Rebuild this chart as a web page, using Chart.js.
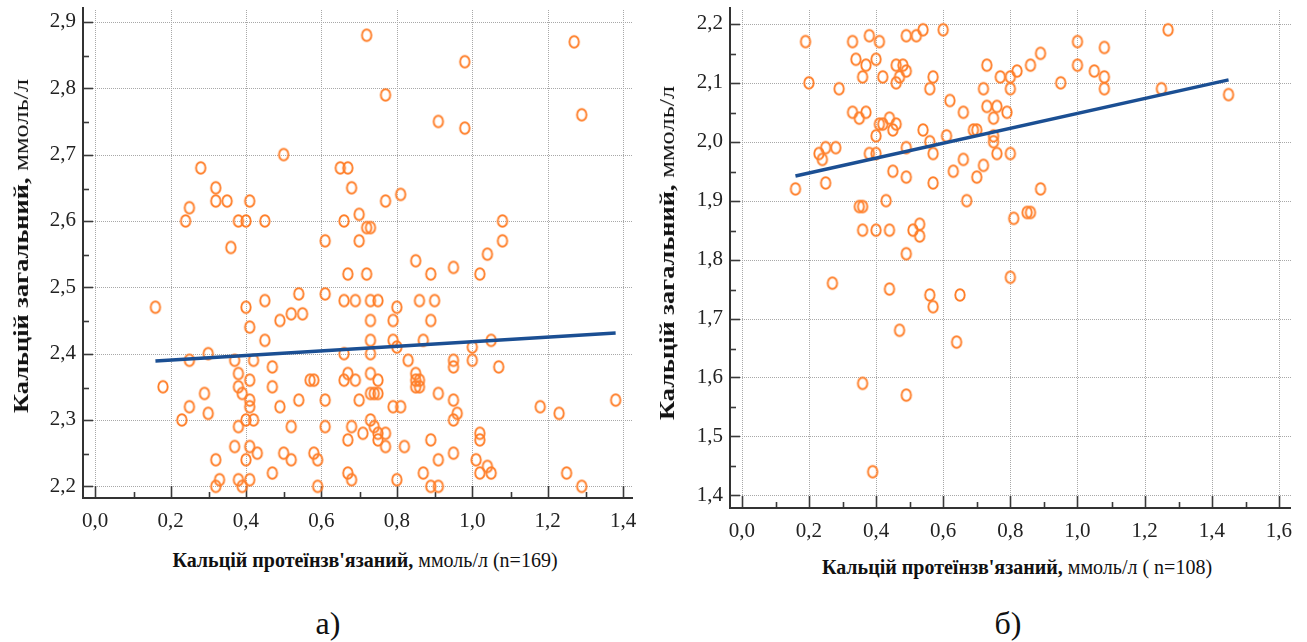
<!DOCTYPE html>
<html>
<head>
<meta charset="utf-8">
<script src="https://cdn.jsdelivr.net/npm/chart.js@4.4.1/dist/chart.umd.min.js"></script>
<style>
  html, body { margin:0; padding:0; background:#fff; }
  body { width:1307px; height:642px; position:relative; overflow:hidden; font-family:"Liberation Serif","Times New Roman",serif; color:#111; }
  canvas { position:absolute; }
  .t { position:absolute; white-space:nowrap; font-family:"Liberation Serif","Times New Roman",serif; color:#111; }
  .b { font-weight:bold; }
  .ytitle { transform:translate(-50%,-50%) rotate(-90deg) scaleX(1.2); font-size:22px; }
  .xtitle { transform:translate(-50%,-50%); font-size:20px; }
  .lab { transform:translate(-50%,-50%); font-size:32px; }
</style>
</head>
<body>
<canvas id="cA" width="650" height="545" style="left:0;top:0"></canvas>
<canvas id="cB" width="657" height="545" style="left:650px;top:0"></canvas>

<div class="t ytitle" style="left:21px;top:246px"><span class="b">Кальцій загальний,</span> ммоль/л</div>
<div class="t xtitle" style="left:365px;top:560px"><span class="b">Кальцій протеїнзв'язаний,</span> ммоль/л (n=169)</div>
<div class="t lab" style="left:328px;top:623px">а)</div>

<div class="t ytitle" style="left:667px;top:253px"><span class="b">Кальцій загальний,</span> ммоль/л</div>
<div class="t xtitle" style="left:1017px;top:567px"><span class="b">Кальцій протеїнзв'язаний,</span> ммоль/л ( n=108)</div>
<div class="t lab" style="left:1008px;top:623px">б)</div>

<script>
// ---------- Panel а) (n=169) ----------
const proteinBoundA = [
  0.50,0.28,0.32,0.25,0.32,0.35,0.41,0.24,0.38,0.40,0.45,0.36,0.61,
  0.72,1.27,0.98,0.77,1.29,0.91,0.98,0.65,0.67,0.68,0.77,0.81,0.70,0.66,0.72,0.73,0.70,1.08,1.08,0.85,1.04,
  0.16,0.40,0.45,0.54,0.61,0.49,0.52,0.55,0.41,0.45,0.30,0.25,0.37,0.42,0.47,0.38,0.18,0.38,0.41,0.47,0.57,0.58,
  0.29,0.39,0.41,0.54,0.61,0.25,0.41,0.49,0.30,0.23,0.40,0.42,0.38,0.52,0.61,0.37,0.41,0.43,0.50,0.58,
  0.32,0.40,0.52,0.59,0.47,0.33,0.38,0.41,0.32,0.39,0.59,
  0.67,0.72,0.89,0.95,1.02,0.66,0.69,0.73,0.75,0.80,0.86,0.90,0.73,0.79,0.89,0.73,0.79,0.80,0.87,1.05,1.00,
  0.66,0.73,0.83,0.95,1.00,0.95,1.07,0.67,0.73,0.85,0.66,0.69,0.75,0.85,0.86,0.85,0.86,0.70,0.73,0.74,0.75,
  0.91,0.95,0.79,0.81,1.18,1.38,0.96,1.23,0.95,0.73,0.68,0.74,0.71,0.75,0.77,1.02,0.67,0.75,0.89,1.02,
  0.77,0.82,0.95,0.91,1.01,1.04,0.67,0.87,1.02,1.05,1.25,0.68,0.80,0.89,0.91,1.29
];
const totalCaA = [
  2.70,2.68,2.65,2.62,2.63,2.63,2.63,2.60,2.60,2.60,2.60,2.56,2.57,
  2.88,2.87,2.84,2.79,2.76,2.75,2.74,2.68,2.68,2.65,2.63,2.64,2.61,2.60,2.59,2.59,2.57,2.60,2.57,2.54,2.55,
  2.47,2.47,2.48,2.49,2.49,2.45,2.46,2.46,2.44,2.42,2.40,2.39,2.39,2.39,2.38,2.37,2.35,2.35,2.36,2.35,2.36,2.36,
  2.34,2.34,2.33,2.33,2.33,2.32,2.32,2.32,2.31,2.30,2.30,2.30,2.29,2.29,2.29,2.26,2.26,2.25,2.25,2.25,
  2.24,2.24,2.24,2.24,2.22,2.21,2.21,2.21,2.20,2.20,2.20,
  2.52,2.52,2.52,2.53,2.52,2.48,2.48,2.48,2.48,2.47,2.48,2.48,2.45,2.45,2.45,2.42,2.42,2.41,2.42,2.42,2.41,
  2.40,2.40,2.39,2.39,2.39,2.38,2.38,2.37,2.37,2.37,2.36,2.36,2.36,2.36,2.36,2.35,2.35,2.33,2.34,2.34,2.34,
  2.34,2.33,2.32,2.32,2.32,2.33,2.31,2.31,2.30,2.30,2.29,2.29,2.28,2.28,2.28,2.28,2.27,2.27,2.27,2.27,
  2.26,2.26,2.25,2.24,2.24,2.23,2.22,2.22,2.22,2.22,2.22,2.21,2.21,2.20,2.20,2.20
];
const fitXA = [0.16, 1.38];
const fitYA = [2.389, 2.431];
const xTickValsA = [0.0,0.2,0.4,0.6,0.8,1.0,1.2,1.4];
const xTickLabelsA = ['0,0','0,2','0,4','0,6','0,8','1,0','1,2','1,4'];
const yTickValsA = [2.2,2.3,2.4,2.5,2.6,2.7,2.8,2.9];
const yTickLabelsA = ['2,2','2,3','2,4','2,5','2,6','2,7','2,8','2,9'];

// ---------- Panel б) (n=108) ----------
const proteinBoundB = [
  0.19,0.20,0.16,0.23,0.24,0.25,0.28,0.25,0.29,0.33,0.38,0.41,0.49,0.52,0.54,0.60,
  0.34,0.37,0.40,0.36,0.42,0.46,0.48,0.49,0.47,0.46,0.57,0.56,0.62,0.66,0.33,0.35,0.37,0.44,
  0.41,0.42,0.46,0.45,0.54,0.40,0.61,0.56,0.69,0.70,0.49,0.38,0.40,0.57,0.66,0.72,0.45,0.63,
  0.49,0.70,0.57,0.43,0.67,0.35,0.36,0.36,0.40,0.44,0.51,0.53,0.53,0.49,
  0.73,0.72,0.73,0.76,0.75,0.75,0.75,0.76,0.80,0.79,0.77,0.80,0.82,0.80,0.86,0.89,0.95,
  1.00,1.00,1.05,1.08,1.08,1.08,1.27,1.25,1.45,0.89,0.85,0.86,0.81,
  0.27,0.44,0.56,0.65,0.57,0.47,0.64,0.36,0.49,0.39,0.80
];
const totalCaB = [
  2.17,2.10,1.92,1.98,1.97,1.99,1.99,1.93,2.09,2.17,2.18,2.17,2.18,2.18,2.19,2.19,
  2.14,2.13,2.14,2.11,2.11,2.13,2.13,2.12,2.11,2.10,2.11,2.09,2.07,2.05,2.05,2.04,2.05,2.04,
  2.03,2.03,2.03,2.02,2.02,2.01,2.01,2.00,2.02,2.02,1.99,1.98,1.98,1.98,1.97,1.96,1.95,1.95,
  1.94,1.94,1.93,1.90,1.90,1.89,1.89,1.85,1.85,1.85,1.85,1.86,1.84,1.81,
  2.13,2.09,2.06,2.06,2.04,2.01,2.00,1.98,1.98,2.05,2.11,2.11,2.12,2.09,2.13,2.15,2.10,
  2.17,2.13,2.12,2.16,2.11,2.09,2.19,2.09,2.08,1.92,1.88,1.88,1.87,
  1.76,1.75,1.74,1.74,1.72,1.68,1.66,1.59,1.57,1.44,1.77
];
const fitXB = [0.16, 1.45];
const fitYB = [1.942, 2.105];
const xTickValsB = [0.0,0.2,0.4,0.6,0.8,1.0,1.2,1.4,1.6];
const xTickLabelsB = ['0,0','0,2','0,4','0,6','0,8','1,0','1,2','1,4','1,6'];
const yTickValsB = [1.4,1.5,1.6,1.7,1.8,1.9,2.0,2.1,2.2];
const yTickLabelsB = ['1,4','1,5','1,6','1,7','1,8','1,9','2,0','2,1','2,2'];

// ---------- styling ----------
const ORANGE = '#ff7f2a';
const BLUE = '#1b4f93';
function makeMarker() {
  const c = document.createElement('canvas');
  c.width = 14; c.height = 16;
  const g = c.getContext('2d');
  g.strokeStyle = ORANGE; g.lineWidth = 1.9;
  g.beginPath(); g.ellipse(7, 8, 4.7, 5.8, 0, 0, Math.PI * 2); g.stroke();
  return c;
}
const marker = makeMarker();

const axesDeco = {
  id: 'axesDeco',
  beforeDatasetsDraw(chart) {
    const {ctx, chartArea: a, scales: {x, y}} = chart;
    const ln = (x1, y1, x2, y2) => { ctx.beginPath(); ctx.moveTo(x1, y1); ctx.lineTo(x2, y2); ctx.stroke(); };
    const xs = x.ticks.map(t => Math.round(x.getPixelForValue(t.value)) + 0.5);
    const ys = y.ticks.map(t => Math.round(y.getPixelForValue(t.value)) + 0.5);
    ctx.save();
    ctx.strokeStyle = '#a8a8a8'; ctx.lineWidth = 1; ctx.setLineDash([1, 1]);
    xs.forEach(px => ln(px, a.top + 2, px, a.bottom));
    ys.forEach(py => ln(a.left, py, a.right, py));
    ctx.setLineDash([]);
    ctx.strokeStyle = '#3a3a3a'; ctx.lineWidth = 1.6;
    xs.forEach(px => ln(px, a.bottom, px, a.bottom - 12));
    for (let i = 0; i + 1 < xs.length; i++) { const m = Math.round((xs[i] + xs[i + 1]) / 2) + 0.5; ln(m, a.bottom, m, a.bottom - 6); }
    ys.forEach(py => ln(a.left, py, a.left + 10, py));
    for (let i = 0; i + 1 < ys.length; i++) { const m = Math.round((ys[i] + ys[i + 1]) / 2) + 0.5; ln(a.left, m, a.left + 6, m); }
    ctx.strokeStyle = '#333'; ctx.lineWidth = 2;
    ln(a.left, a.top - 1, a.left, a.bottom + 1);
    ln(a.left - 1, a.bottom, a.right, a.bottom);
    ctx.restore();
  }
};

function build(id, px, py, fx, fy, xr, yr, xv, xl, yv, yl, yW, xH, padR) {
  const pts = px.map((v, i) => ({x: v, y: py[i]}));
  const fit = fx.map((v, i) => ({x: v, y: fy[i]}));
  const tickFont = {family: '"Liberation Serif", "Times New Roman", serif', size: 21};
  return new Chart(document.getElementById(id), {
    type: 'scatter',
    data: {
      datasets: [
        {type: 'line', data: fit, borderColor: BLUE, borderWidth: 3.5, pointRadius: 0, fill: false, order: 0},
        {data: pts, pointStyle: marker, pointRadius: 6, order: 1}
      ]
    },
    options: {
      responsive: false, animation: false, devicePixelRatio: 1,
      layout: {padding: {top: 8, right: padR, left: 0, bottom: 0}},
      plugins: {legend: {display: false}, tooltip: {enabled: false}},
      scales: {
        x: {
          type: 'linear', min: xr[0], max: xr[1],
          afterBuildTicks: s => { s.ticks = xv.map(v => ({value: v})); },
          afterFit: s => { s.height = xH; s.paddingLeft = 0; s.paddingRight = 0; },
          ticks: {callback: (v, i) => xl[i], font: tickFont, color: '#222', padding: 11, maxRotation: 0, autoSkip: false},
          grid: {display: false, drawTicks: false}, border: {display: false}
        },
        y: {
          type: 'linear', min: yr[0], max: yr[1],
          afterBuildTicks: s => { s.ticks = yv.map(v => ({value: v})); },
          afterFit: s => { s.width = yW; s.paddingTop = 0; s.paddingBottom = 0; },
          ticks: {callback: (v, i) => yl[i], font: tickFont, color: '#222', padding: 7, autoSkip: false},
          grid: {display: false, drawTicks: false}, border: {display: false}
        }
      }
    },
    plugins: [axesDeco]
  });
}

build('cA', proteinBoundA, totalCaA, fitXA, fitYA, [-0.032, 1.426], [2.1824, 2.921],
      xTickValsA, xTickLabelsA, yTickValsA, yTickLabelsA, 83, 47, 17);
build('cB', proteinBoundB, totalCaB, fitXB, fitYB, [-0.035, 1.636], [1.3784, 2.227],
      xTickValsB, xTickLabelsB, yTickValsB, yTickLabelsB, 80, 37, 16);
</script>
</body>
</html>
